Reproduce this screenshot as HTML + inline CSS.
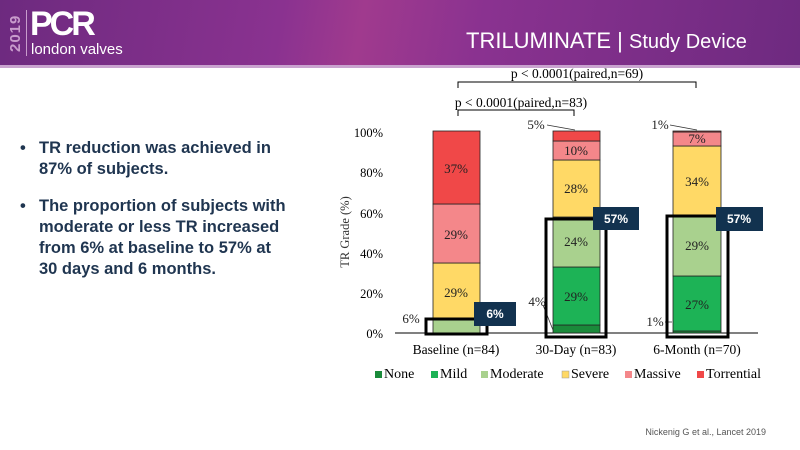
<!DOCTYPE html>
<html><head><meta charset="utf-8"><style>
body{margin:0;width:800px;height:450px;overflow:hidden;background:#fff;position:relative;font-family:"Liberation Sans",sans-serif}
.hdr{position:absolute;left:0;top:0;width:800px;height:65px;background:linear-gradient(100deg,#6d2a7f 0%,#8a3290 35%,#a03a8e 45%,#8a3290 60%,#6e2a80 100%)}
.hl{position:absolute;left:0;top:65px;width:800px;height:3px;background:#c9a3cf}
.t{position:absolute;color:#fff}
.bul{position:absolute;left:20px;color:#1f3550;font-weight:bold;font-size:16.5px;line-height:21px}
.bul div{position:relative;padding-left:19px}
.bul div:before{content:"•";position:absolute;left:0;top:0}
</style></head><body>
<div class="hdr"></div><div class="hl"></div>
<div class="t" style="left:7px;top:10px;font-size:15px;color:#c89ccc;transform:rotate(-90deg);transform-origin:left top;top:52px;letter-spacing:1px;font-weight:bold">2019</div>
<div class="t" style="left:26px;top:10px;width:1px;height:46px;background:#c89ccc"></div>
<div class="t" style="left:30px;top:5px;font-size:34px;font-weight:bold;letter-spacing:-3px">PCR</div>
<div class="t" style="left:31px;top:41px;font-size:15px">london valves</div>
<div class="t" style="left:466px;top:28px;font-size:22px">TRILUMINATE <span style="font-weight:100">|</span> <span style="font-size:20px">Study Device</span></div>

<div class="bul" style="top:138px"><div>TR reduction was achieved in<br>87% of subjects.</div></div>
<div class="bul" style="top:196px"><div>The proportion of subjects with<br>moderate or less TR increased<br>from 6% at baseline to 57% at<br>30 days and 6 months.</div></div>

<svg style="position:absolute;left:0;top:0" width="800" height="450" font-family="Liberation Serif,serif" font-size="13">
<g fill="#000" text-anchor="end" font-size="12.5">
<text x="383" y="137">100%</text><text x="383" y="177">80%</text><text x="383" y="218">60%</text><text x="383" y="258">40%</text><text x="383" y="298">20%</text><text x="383" y="338">0%</text>
</g>
<text transform="translate(349,232) rotate(-90)" text-anchor="middle" font-size="12.5" fill="#333">TR Grade (%)</text>
<line x1="395" y1="333" x2="758" y2="333" stroke="#000"/>
<g stroke="#222" stroke-width="0.8">
<rect x="433" y="318" width="47" height="15" fill="#a9d18e"/>
<rect x="433" y="263" width="47" height="55" fill="#ffd966"/>
<rect x="433" y="204" width="47" height="59" fill="#f4878a"/>
<rect x="433" y="131" width="47" height="73" fill="#f04848"/>
<rect x="553" y="325" width="47" height="8" fill="#1a8a3a"/>
<rect x="553" y="267" width="47" height="58" fill="#1db356"/>
<rect x="553" y="217" width="47" height="50" fill="#a9d18e"/>
<rect x="553" y="160" width="47" height="57" fill="#ffd966"/>
<rect x="553" y="141" width="47" height="19" fill="#f4878a"/>
<rect x="553" y="131" width="47" height="10" fill="#f04848"/>
<rect x="673" y="331" width="48" height="2" fill="#1a8a3a"/>
<rect x="673" y="276" width="48" height="55" fill="#1db356"/>
<rect x="673" y="216" width="48" height="60" fill="#a9d18e"/>
<rect x="673" y="146" width="48" height="70" fill="#ffd966"/>
<rect x="673" y="132" width="48" height="14" fill="#f4878a"/>
<rect x="673" y="131" width="48" height="1" fill="#f04848"/>
</g>
<g fill="#222" text-anchor="middle" font-size="13">
<text x="456" y="173">37%</text><text x="456" y="239">29%</text><text x="456" y="297">29%</text>
<text x="576" y="155">10%</text><text x="576" y="193">28%</text><text x="576" y="246">24%</text><text x="576" y="301">29%</text>
<text x="697" y="143">7%</text><text x="697" y="186">34%</text><text x="697" y="250">29%</text><text x="697" y="309">27%</text>
<text x="411" y="323">6%</text><text x="537" y="306">4%</text><text x="536" y="129">5%</text>
<text x="655" y="326">1%</text><text x="660" y="129">1%</text>
</g>
<g stroke="#333" stroke-width="0.8" fill="none">
<line x1="547" y1="125" x2="575" y2="130"/><line x1="670" y1="125" x2="697" y2="130"/>
<line x1="543" y1="305" x2="553" y2="330"/><line x1="665" y1="322" x2="672" y2="322"/>
</g>
<g fill="none" stroke="#000" stroke-width="3">
<rect x="426" y="319" width="61" height="15"/>
<rect x="546" y="219" width="60" height="118"/>
<rect x="667" y="216" width="61" height="121"/>
</g>
<g fill="#12324f"><rect x="474" y="302" width="42" height="24"/><rect x="593" y="207" width="46" height="23"/><rect x="716" y="207" width="47" height="24"/></g>
<g fill="#fff" font-family="Liberation Sans,sans-serif" font-weight="bold" font-size="12" text-anchor="middle">
<text x="495" y="318">6%</text><text x="616" y="223">57%</text><text x="739" y="223">57%</text></g>
<g fill="none" stroke="#000" stroke-width="1">
<path d="M458 88 V82 H696 V88"/><path d="M458 116 V110 H574 V116"/></g>
<g font-size="13.5" text-anchor="middle"><text x="577" y="78">p &lt; 0.0001(paired,n=69)</text><text x="521" y="107">p &lt; 0.0001(paired,n=83)</text></g>
<g font-size="13.5" text-anchor="middle"><text x="456" y="354">Baseline (n=84)</text><text x="576" y="354">30-Day (n=83)</text><text x="697" y="354">6-Month (n=70)</text></g>
<g font-size="14">
<rect x="375" y="371" width="7" height="7" fill="#1a8a3a"/><text x="384" y="378">None</text>
<rect x="431" y="371" width="7" height="7" fill="#1db356"/><text x="440" y="378">Mild</text>
<rect x="481" y="371" width="7" height="7" fill="#a9d18e"/><text x="490" y="378">Moderate</text>
<rect x="562" y="371" width="7" height="7" fill="#ffd966" stroke="#999" stroke-width="0.5"/><text x="571" y="378">Severe</text>
<rect x="625" y="371" width="7" height="7" fill="#f4878a"/><text x="634" y="378">Massive</text>
<rect x="697" y="371" width="7" height="7" fill="#f04848"/><text x="706" y="378">Torrential</text>
</g>
<text x="766" y="435" text-anchor="end" font-family="Liberation Sans,sans-serif" font-size="9" fill="#555">Nickenig G et al., Lancet 2019</text>
</svg>
</body></html>
